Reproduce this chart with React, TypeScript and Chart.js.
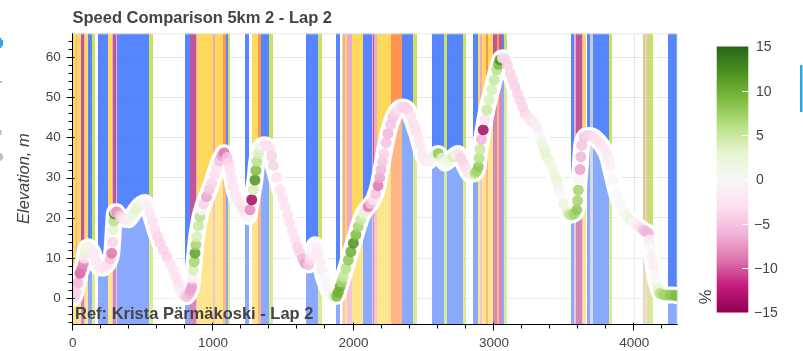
import React, { useEffect, useRef } from "react";
import { Chart, registerables } from "chart.js";

Chart.register(...registerables);

const TITLE = "Speed Comparison 5km 2 - Lap 2";
const REF_LABEL = "Ref: Krista Pärmäkoski - Lap 2";
const Y_TITLE = "Elevation, m";
const CB_TITLE = "%";

const X_TICKS = [0, 1000, 2000, 3000, 4000];
const Y_TICKS = [0, 10, 20, 30, 40, 50, 60];
const CB_TICKS = [-15, -10, -5, 0, 5, 10, 15];
const X_MAX = 4309;
const Y_MIN = -6.4;
const Y_MAX = 65.9;
const CB_MIN = -15;
const CB_MAX = 15;

// distance along lap (m)
const DIST = [
  0, 12, 24, 38, 52, 64, 75, 82, 88, 98,
  111, 128, 147, 165, 182, 200, 218, 236, 254, 268,
  278, 284, 289, 293, 296, 304, 313, 325, 337, 348,
  360, 378, 396, 414, 432, 450, 467, 490, 515, 533,
  551, 568, 586, 604, 622, 646, 670, 694, 717, 735,
  752, 764, 776, 794, 812, 830, 840, 848, 854, 859,
  865, 871, 877, 883, 895, 907, 920, 933, 954, 972,
  990, 1008, 1026, 1044, 1062, 1078, 1099, 1110, 1120, 1132,
  1144, 1160, 1175, 1191, 1209, 1227, 1240, 1251, 1263, 1275,
  1287, 1298, 1305, 1311, 1322, 1334, 1352, 1370, 1388, 1405,
  1417, 1429, 1452, 1476, 1494, 1512, 1530, 1548, 1566, 1584,
  1602, 1619, 1637, 1655, 1678, 1690, 1702, 1714, 1726, 1738,
  1749, 1761, 1773, 1791, 1809, 1827, 1845, 1862, 1880, 1892,
  1904, 1916, 1927, 1945, 1963, 1981, 1999, 2017, 2034, 2052,
  2070, 2088, 2105, 2123, 2141, 2158, 2175, 2186, 2196, 2207,
  2217, 2232, 2246, 2264, 2281, 2299, 2317, 2335, 2353, 2370,
  2388, 2407, 2426, 2438, 2450, 2462, 2474, 2491, 2509, 2530,
  2550, 2568, 2586, 2604, 2628, 2652, 2680, 2711, 2730, 2746,
  2764, 2782, 2800, 2818, 2841, 2865, 2877, 2889, 2895, 2901,
  2912, 2924, 2936, 2949, 2966, 2984, 3002, 3020, 3032, 3043,
  3061, 3079, 3097, 3115, 3133, 3150, 3168, 3186, 3204, 3222,
  3240, 3257, 3275, 3293, 3311, 3329, 3341, 3352, 3364, 3376,
  3394, 3412, 3430, 3447, 3459, 3471, 3495, 3519, 3537, 3554,
  3572, 3590, 3596, 3601, 3607, 3613, 3619, 3625, 3643, 3661,
  3685, 3708, 3732, 3756, 3780, 3803, 3815, 3826, 3850, 3875,
  3898, 3921, 3945, 3969, 3993, 4017, 4041, 4064, 4082, 4100,
  4106, 4112, 4124, 4135, 4147, 4159, 4171, 4183, 4207, 4231,
  4255, 4278, 4295, 4309,
];
// elevation (m)
const ELEV = [
  0, 0.5, 1.5, 3.8, 6.2, 7.3, 8.5, 10, 11.5, 12.5,
  12.8, 12.3, 11.2, 9.3, 7.9, 7.5, 7.5, 8, 8.7, 9.8,
  11.2, 14, 17, 19.2, 21, 21.5, 21.5, 21, 20.5, 20.1,
  19.9, 19.6, 19.5, 20.2, 21.1, 22, 22.8, 23.5, 23.8, 22.8,
  21.1, 19.2, 17, 15.3, 13.7, 12, 10.3, 8.6, 7, 5.3,
  3.7, 2.3, 1.2, 0.6, 0.4, 1.2, 2, 2.9, 5, 7,
  9.1, 11.2, 13.3, 15.3, 18, 20.3, 22, 23.5, 25.3, 27,
  28.6, 30.6, 32.5, 34.2, 35.5, 36.2, 35, 33.6, 32, 30,
  27.8, 25.8, 24.4, 23.6, 22.2, 21.1, 20.5, 20.3, 22, 24.5,
  27, 29.4, 31.8, 34, 36, 37.5, 38.1, 38.2, 37.9, 37.2,
  35.3, 33, 30, 27, 24.8, 22.8, 20.7, 18.7, 16.5, 14.5,
  12.7, 11.2, 9.8, 8.7, 8.3, 9.6, 11.2, 12.6, 13.3, 12.5,
  11.2, 9.2, 7, 4.8, 2.9, 1.6, 0.8, 0.5, 0.5, 1.5,
  2.9, 4.1, 5.4, 7.4, 9.5, 11.6, 13.7, 15.8, 17.8, 19.6,
  21.1, 22, 22.8, 23.6, 24.5, 26, 28, 30, 32, 34,
  36, 38.7, 41, 43.2, 45, 46.2, 47, 47.5, 47.6, 47.4,
  46.8, 45.3, 43.5, 42.3, 41, 39.5, 38, 35.8, 34.3, 34,
  34.6, 35.2, 35.8, 36, 34.8, 33.6, 34.3, 35.2, 35.8, 36,
  35, 33.6, 32.2, 31.1, 30.8, 31.1, 31.6, 32.7, 34.8, 37,
  39.5, 41.9, 44.4, 46.8, 49.3, 51.8, 54.3, 56.8, 58.2, 59.3,
  59.8, 59.5, 58, 56, 54.3, 52.6, 50.9, 49.3, 47.6, 46,
  45.1, 44.4, 44, 43.5, 41.9, 40.2, 39, 37.7, 36.4, 35.2,
  33.9, 32.7, 31, 29.4, 27.7, 26.1, 23.6, 21.5, 20.9, 20.7,
  21, 22, 24.3, 26.9, 29.5, 32, 35.2, 38, 40, 40.5,
  40.5, 40.2, 39.5, 38.6, 37.4, 36, 34.6, 33, 29.5, 26,
  23.7, 21.8, 20.5, 19.5, 18.8, 18.2, 17.6, 17, 16.6, 16.2,
  14.5, 12.8, 10.3, 7.9, 5.7, 3.7, 2.3, 1.2, 0.9, 0.8,
  0.8, 0.8, 0.7, 0.6,
];
// speed difference vs reference (%)
const PCT = [
  -3, -4, -4, -6, -10, -9, -8, -2, 3, 2,
  1, -1, -2, -2, -1, -2, -2, -3, -3, -5,
  -9, -4, 3, 6, 12, -2, -8, -7, -5, -4,
  -3, -2, -1, 1, 2, 3, 3, 1, 0, -1,
  -2, -3, -3, -4, -4, -4, -4, -3, -3, -3,
  -3, -2, -1, -3, -5, -6, -7, -7, -1, 4,
  7, 11, 7, 4, 5, 6, 0, -4, -7, -5,
  -4, -3, -3, -5, -7, -9, -5, -4, -3, -3,
  -3, -2, -2, -2, -3, -3, -2, 0, -8, -14,
  4, 12, 9, 6, 4, 3, 0, -3, -3, -3,
  -4, -4, -3, -3, -3, -3, -3, -3, -3, -3,
  -4, -4, -6, -7, -5, -3, -1, 0, 0, -1,
  -2, -1, -1, 0, 0, 0, 0, 4, 9, 10,
  10, 7, 5, 6, 8, 10, 12, 9, 7, 5,
  3, -3, -9, -5, -3, -5, -9, -7, -6, -5,
  -4, -5, -6, -5, -5, -4, -3, -3, -4, -4,
  -4, -3, -3, -3, -3, -2, -2, -2, -2, -1,
  -1, -1, 3, 8, 3, 0, 2, 4, 1, -3,
  -4, -4, -3, -3, 2, 6, 7, 8, 6, 5,
  -6, -14, -3, 5, 4, 4, 5, 6, 9, 12,
  -2, -4, -4, -4, -4, -4, -4, -4, -4, -4,
  -3, -3, -2, -1, -1, 0, 1, 2, 3, 3,
  2, 1, 2, 3, 1, 0, 2, 3, 5, 6,
  7, 8, 7, 7, 0, -7, -6, -5, -5, -4,
  -4, -3, -3, -3, -2, -2, -1, -1, 0, 0,
  0, 0, 1, 2, 0, -2, -3, -5, -6, -6,
  -2, 0, -1, -1, 0, 0, 3, 6, 7, 7,
  8, 8, 9, 9,
];

// background technique bands (m)
const BAND_START = [
  0, 23.5, 32.8, 57, 80.5, 89.7, 111, 137.5, 182, 253.5, 278, 287, 308, 317.5, 545.5, 800, 835.5, 878, 887.5, 1001.5,
  1013.5, 1072.6, 1092, 1104, 1227, 1275, 1322, 1339, 1400, 1661.7, 1749, 1875.4, 1916, 1927, 1939.5, 1956, 1987, 2065.5, 2130, 2137,
  2146, 2165, 2265, 2343, 2426, 2557, 2644.5, 2668, 2782, 2849, 2889, 2901, 2913, 2944, 2958, 2991.5, 3020, 3038.5, 3060, 3074,
  3547, 3571, 3585, 3630, 3637, 3665.5, 3685, 3708, 3822, 4060, 4076.5, 4093, 4107, 4242,
];
const BAND_END = [
  23.5, 32.8, 57, 80.5, 89.7, 111, 137.5, 159, 253.5, 278, 287, 308, 317.5, 545.5, 570, 835.5, 878, 887.5, 1001.5, 1013.5,
  1072.6, 1092, 1104, 1120, 1258, 1322, 1339, 1400, 1424.5, 1749, 1773.5, 1904, 1927, 1939.5, 1956, 1987, 2065.5, 2130, 2137, 2146,
  2165, 2265, 2343, 2426, 2450, 2644.5, 2668, 2782, 2801.5, 2889, 2901, 2913, 2944, 2958, 2991.5, 3020, 3038.5, 3060, 3074, 3095.5,
  3571, 3585, 3630, 3637, 3656, 3685, 3708, 3822, 3841, 4076.5, 4093, 4107, 4131, 4302,
];
const BAND_KIND = [
  "Y", "P", "Y", "M", "P", "Y", "B", "L", "B", "Y", "P", "M", "P", "B", "L", "B", "M", "P", "Y", "P",
  "Y", "O", "B", "L", "B", "Y", "O", "B", "L", "B", "L", "B", "Y", "P", "Y", "P", "Y", "B", "P", "M",
  "P", "Y", "O", "B", "L", "B", "L", "B", "L", "B", "Y", "P", "Y", "O", "Y", "M", "O", "M", "B", "L",
  "B", "P", "M", "P", "Y", "B", "G", "B", "L", "G", "Y", "G", "L", "B",
];

const BAND_COLORS: Record<string, string> = {
  B: "rgb(69,120,255)",
  Y: "rgb(255,213,74)",
  O: "rgb(255,136,61)",
  M: "rgb(185,68,143)",
  L: "rgb(196,223,83)",
  G: "rgb(196,196,196)",
  P: "rgb(234,161,194)",
};

const PIYG = [
  "#8e0152", "#c51b7d", "#de77ae", "#f1b6da", "#fde0ef", "#f7f7f7",
  "#e6f5d0", "#b8e186", "#7fbc41", "#4d9221", "#276419",
];

const FONT = "'Liberation Sans', Arial, Helvetica, sans-serif";
const TEXT = "#444444";

function hexRgb(h: string) {
  return [parseInt(h.slice(1, 3), 16), parseInt(h.slice(3, 5), 16), parseInt(h.slice(5, 7), 16)];
}
function cmap(v: number, alpha = 1) {
  const c = Math.max(CB_MIN, Math.min(CB_MAX, v));
  const t = ((c - CB_MIN) / (CB_MAX - CB_MIN)) * (PIYG.length - 1);
  const i = Math.min(PIYG.length - 2, Math.floor(t));
  const f = t - i;
  const a = hexRgb(PIYG[i]);
  const b = hexRgb(PIYG[i + 1]);
  const r = a.map((x, k) => Math.round(x + (b[k] - x) * f));
  return `rgba(${r[0]},${r[1]},${r[2]},${alpha})`;
}

const CB_LEFT = 716.7;
const CB_RIGHT = 748.3;
const CB_TOP = 46.5;
const CB_BOTTOM = 312.5;

const decorPlugin = {
  id: "decor",
  beforeDatasetsDraw(chart: any) {
    const { ctx, chartArea: a, scales } = chart;
    const x = scales.x;
    ctx.save();
    ctx.beginPath();
    ctx.rect(a.left, a.top, a.right - a.left, a.bottom - a.top);
    ctx.clip();
    ctx.globalAlpha = 0.9;
    for (let i = 0; i < BAND_START.length; i++) {
      const x0 = Math.round(x.getPixelForValue(BAND_START[i]));
      const x1 = Math.round(x.getPixelForValue(BAND_END[i]));
      ctx.fillStyle = BAND_COLORS[BAND_KIND[i]];
      ctx.fillRect(x0, a.top, Math.max(1, x1 - x0), a.bottom - a.top);
    }
    ctx.restore();
  },
  afterDraw(chart: any) {
    const { ctx, chartArea: a, scales } = chart;
    const xs = scales.x;
    const ys = scales.y;
    ctx.save();
    ctx.strokeStyle = "#e5e5e5";
    ctx.lineWidth = 1;
    ctx.beginPath();
    ctx.moveTo(a.left, a.top + 0.5);
    ctx.lineTo(a.right - 0.5, a.top + 0.5);
    ctx.lineTo(a.right - 0.5, a.bottom);
    ctx.stroke();

    ctx.strokeStyle = "#000";
    const L = Math.round(a.left) - 0.5;
    const B = Math.round(a.bottom) + 0.5;
    ctx.beginPath();
    ctx.moveTo(L, a.top);
    ctx.lineTo(L, B);
    ctx.lineTo(a.right, B);
    for (let v = Math.ceil(Y_MIN / 2) * 2; v <= Y_MAX; v += 2) {
      const py = Math.round(ys.getPixelForValue(v)) + 0.5;
      const major = Y_TICKS.includes(v);
      ctx.moveTo(L - (major ? 6 : 4), py);
      ctx.lineTo(L + (major ? 2 : 0), py);
    }
    for (let v = 0; v <= X_MAX; v += 200) {
      const px = Math.round(xs.getPixelForValue(v)) - 0.5;
      const major = X_TICKS.includes(v);
      ctx.moveTo(px, B + (major ? 6 : 4));
      ctx.lineTo(px, B - (major ? 2 : 0));
    }
    ctx.stroke();

    ctx.fillStyle = TEXT;
    ctx.font = `bold 16.5px ${FONT}`;
    ctx.textAlign = "left";
    ctx.textBaseline = "alphabetic";
    ctx.fillText(TITLE, 72.5, 22.7);
    ctx.fillText(REF_LABEL, 75, 318.5);

    const grad = ctx.createLinearGradient(0, CB_BOTTOM, 0, CB_TOP);
    PIYG.forEach((c, i) => grad.addColorStop(i / (PIYG.length - 1), c));
    ctx.fillStyle = grad;
    ctx.fillRect(CB_LEFT, CB_TOP, CB_RIGHT - CB_LEFT, CB_BOTTOM - CB_TOP);
    const cbY = (v: number) => CB_BOTTOM - ((v - CB_MIN) / (CB_MAX - CB_MIN)) * (CB_BOTTOM - CB_TOP);
    ctx.strokeStyle = "#ffffff";
    ctx.beginPath();
    CB_TICKS.forEach((v) => {
      if (v === CB_MIN || v === CB_MAX) return;
      const py = Math.round(cbY(v)) + 0.5;
      ctx.moveTo(CB_RIGHT - 6, py);
      ctx.lineTo(CB_RIGHT, py);
    });
    ctx.stroke();
    ctx.fillStyle = TEXT;
    ctx.font = `14px ${FONT}`;
    ctx.textBaseline = "middle";
    CB_TICKS.forEach((v) => {
      const s = v < 0 ? "\u2212" + Math.abs(v) : String(v);
      ctx.fillText(s, v < 0 ? 754 : 756, cbY(v) + 1);
    });
    ctx.save();
    ctx.translate(706, 297);
    ctx.rotate(-Math.PI / 2);
    ctx.font = `16.5px ${FONT}`;
    ctx.textAlign = "center";
    ctx.fillText(CB_TITLE, 0, 0);
    ctx.restore();

    ctx.fillStyle = "#36a3e0";
    ctx.fillRect(0, 40, 3, 6);
    ctx.fillRect(0, 38, 1.5, 10);
    ctx.fillStyle = "#bdbdbd";
    ctx.fillRect(0, 81, 2, 2);
    ctx.fillRect(0, 130, 1.5, 5);
    ctx.beginPath();
    ctx.arc(-1, 157, 4, 0, Math.PI * 2);
    ctx.fill();
    ctx.fillStyle = "#2aa8e0";
    ctx.fillRect(800, 65, 2.5, 47);
    ctx.restore();
  },
};

export default function App() {
  const ref = useRef<HTMLCanvasElement | null>(null);
  useEffect(() => {
    document.body.style.margin = "0";
    const canvas = ref.current;
    if (!canvas) return;
    const n = Math.min(DIST.length, ELEV.length, PCT.length);
    const pts = DIST.slice(0, n).map((d, i) => ({ x: d, y: ELEV[i] }));
    const chart = new Chart(canvas, {
      type: "line",
      data: {
        datasets: [
          {
            data: pts,
            showLine: false,
            pointRadius: 5.5,
            pointBorderWidth: 0,
            pointBackgroundColor: PCT.slice(0, n).map((v) => cmap(v, 0.85)),
            order: 1,
            clip: 0,
          } as any,
          {
            data: pts,
            borderColor: "#ffffff",
            borderWidth: 17,
            borderCapStyle: "round",
            borderJoinStyle: "round",
            pointRadius: 0,
            fill: false,
            cubicInterpolationMode: "monotone",
            order: 2,
            clip: 0,
          } as any,
          {
            data: pts,
            borderWidth: 0,
            pointRadius: 0,
            fill: "start",
            backgroundColor: "rgba(255,255,255,0.3)",
            cubicInterpolationMode: "monotone",
            order: 3,
            clip: 0,
          } as any,
        ],
      },
      options: {
        animation: false,
        responsive: false,
        devicePixelRatio: 1,
        events: [],
        layout: { padding: { left: 0, top: 33.3, right: 125.3, bottom: 0 } },
        plugins: {
          legend: { display: false },
          tooltip: { enabled: false },
          title: { display: false },
        },
        scales: {
          x: {
            type: "linear",
            min: 0,
            max: X_MAX,
            afterBuildTicks: (s: any) => {
              s.ticks = X_TICKS.map((v) => ({ value: v }));
            },
            afterFit: (s: any) => {
              s.height = 27;
            },
            grid: { color: "#e5e5e5", drawTicks: false, lineWidth: 1 },
            border: { display: false },
            ticks: {
              padding: 11,
              color: TEXT,
              font: { size: 13.5, family: FONT },
              maxRotation: 0,
              autoSkip: false,
              callback: (v: any) => String(v),
            },
          },
          y: {
            type: "linear",
            min: Y_MIN,
            max: Y_MAX,
            afterBuildTicks: (s: any) => {
              s.ticks = Y_TICKS.map((v) => ({ value: v }));
            },
            afterFit: (s: any) => {
              s.width = 72.7;
            },
            grid: { color: "#e5e5e5", drawTicks: false, lineWidth: 1 },
            border: { display: false },
            ticks: {
              padding: 12,
              color: TEXT,
              font: { size: 13.5, family: FONT },
              callback: (v: any) => String(v),
            },
            title: {
              display: true,
              text: Y_TITLE,
              color: TEXT,
              font: { size: 16.5, style: "italic", family: FONT },
              padding: { top: 15, bottom: 0 },
            },
          },
        },
      } as any,
      plugins: [decorPlugin],
    });
    return () => chart.destroy();
  }, []);
  return (
    <div style={{ position: "absolute", left: 0, top: 0, width: 803, height: 351 }}>
      <canvas ref={ref} width={803} height={351} style={{ width: 803, height: 351, display: "block" }} />
    </div>
  );
}
